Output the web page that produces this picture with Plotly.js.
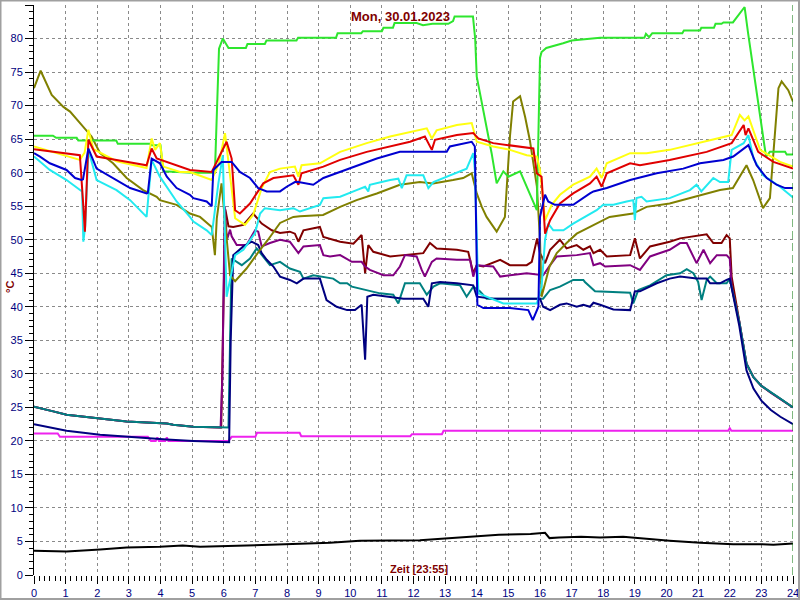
<!DOCTYPE html>
<html>
<head>
<meta charset="utf-8">
<script src="https://cdn.plot.ly/plotly-3.0.1.min.js"></script>
<style>html,body{margin:0;padding:0;background:#fff;}#chart{width:800px;height:600px;}</style>
</head>
<body>
<div id="chart"></div>
<script>
// ---- data (hours, °C) ----
const titleText = "Mon, 30.01.2023";
const xTitleText = "Zeit [23:55]";
const yTitleText = "°C";

const greenH = [0,0.6,0.7,1.35,1.4,2.6,2.65,3.67,3.72,4.0,4.09,5.0,5.72,5.78,5.85,5.97,6.15,6.7,6.75,7.3,7.35,8.3,8.35,9.55,9.6,10.35,10.4,11.0,11.05,11.35,11.4,12.1,12.3,12.6,13.1,13.25,13.3,13.88,13.95,14.0,14.16,14.47,14.63,14.84,15.0,15.37,15.9,16.0,16.05,16.2,16.73,17.0,17.9,19.3,19.35,19.45,19.55,20.5,20.55,21.06,21.1,21.5,21.55,21.74,21.8,22.1,22.47,22.58,23.1,23.15,23.27,23.75,23.8,24];
const greenV = [65.5,65.5,65.2,65.2,64.8,64.8,64.3,64.3,64.1,64.1,60.2,60.0,60.0,70,78.5,80.0,78.6,78.6,79.2,79.2,79.7,79.7,80.1,80.1,80.8,80.8,81.1,81.1,81.6,81.6,82.3,82.3,82.0,82.2,82.2,82.6,83.3,83.3,80,74.3,70.4,62.9,58.4,60.2,59.4,60.2,54.4,77.1,78.0,78.6,79.3,79.7,80.1,80.1,80.7,80.2,80.8,80.8,81.2,81.2,81.6,81.6,82.2,82.2,82.4,82.4,84.7,80.8,63.9,62.4,63.1,63.1,62.7,62.7];

const oliveH = [0,0.21,0.56,0.93,1.14,1.45,1.82,2.09,2.5,2.93,3.45,3.88,3.98,4.51,4.93,5.25,5.62,5.72,5.78,5.93,6.2,6.36,6.72,7.15,7.4,7.78,8.2,8.41,9.14,9.68,10.2,10.84,11.57,12.2,12.62,13.25,13.57,13.84,14.0,14.16,14.31,14.63,14.89,15.05,15.15,15.37,15.53,15.68,15.9,16.0,16.05,16.3,16.53,16.84,17.16,17.58,18.2,18.94,19.37,20.1,20.74,21.27,21.69,22.1,22.53,22.74,23.05,23.27,23.43,23.54,23.64,23.85,24];
const oliveV = [72.6,75.2,71.6,69.8,69.1,67.4,65.4,62.9,61.4,59.2,57.4,56.4,55.9,55.2,53.9,53.4,51.9,47.7,53.2,58.4,44.7,43.8,45.7,48.5,50.0,52.5,53.4,53.5,53.7,54.9,55.9,56.9,58.2,58.6,58.4,58.9,59.2,59.9,56.9,54.9,53.4,51.2,53.4,65.4,70.6,71.4,68.3,64.8,58,50,41.5,46,48,49.5,50.9,51.9,53.4,53.9,54.9,55.4,56.2,56.9,57.4,57.7,61.1,58.9,54.7,56.2,66.8,72.6,73.6,72.3,70.6];

const yellowH = [0,1.03,1.45,1.6,1.72,1.88,2.61,3.56,3.72,3.83,3.98,4.09,4.62,4.93,5.62,5.85,6.04,6.36,6.67,6.93,7.2,7.46,7.78,8.25,8.36,8.46,9.04,9.68,10.52,11.26,11.89,12.42,12.58,12.73,13.37,13.84,14.0,14.52,15.05,15.58,15.9,16.0,16.16,16.37,16.63,17.05,17.58,17.79,17.95,18.11,18.85,19.37,20.1,20.74,21.17,21.59,22.06,22.32,22.47,22.59,22.96,23.59,24];
const yellowV = [63.9,62.4,61.9,63,66.4,63.5,61.7,60.7,65.1,63.4,64.4,60.9,60.1,60.1,58.9,61.5,65.9,53.2,52.2,53.7,57.7,60.1,60.6,60.9,59.4,61.1,61.4,63.1,64.4,65.4,66.1,66.6,65.1,66.3,67.1,67.4,64.6,63.9,63.4,62.6,62.4,60.4,52.9,55.2,56.7,58.2,59.4,60.6,59.2,61.4,62.9,62.9,63.4,64.1,64.6,65.1,65.6,68.6,67.8,68.4,63.4,61.6,60.9];

const redH = [0,1.03,1.45,1.56,1.61,1.72,1.98,2.61,3.56,3.72,3.88,4.93,5.62,6.09,6.25,6.36,6.51,6.83,7.25,7.57,8.2,8.36,8.46,9.15,9.68,10.52,11.26,11.89,12.36,12.58,12.68,13.37,13.89,14.05,14.52,15.05,15.79,15.9,16.05,16.16,16.32,16.63,17.05,17.58,17.79,17.95,18.11,18.85,19.16,20.1,20.74,21.27,22.06,22.44,22.5,22.59,22.9,23.38,24];
const redV = [63.5,62.9,62.6,55,51.2,64.9,62.4,61.9,61.1,63.6,62.1,60.4,60.1,64.6,62.1,54.4,53.9,55.4,58.4,59.2,59.6,58.2,59.9,60.9,61.9,63.1,63.9,64.6,65.4,63.4,64.9,65.6,65.9,65.1,64.4,64.1,63.6,59.9,59.4,50.9,52.9,55.4,56.9,58.4,59.4,57.9,59.9,61.4,61.1,61.9,62.6,63.1,64.4,67.1,65.6,66.6,63.1,61.6,60.6];

const blueH = [0,0.19,0.5,1.03,1.3,1.5,1.55,1.72,1.98,2.61,3.04,3.56,3.6,3.72,3.98,4.2,4.51,4.93,5.04,5.46,5.62,5.67,5.93,6.25,6.51,6.83,7.09,7.36,7.78,7.99,8.25,8.36,8.83,9.15,9.68,10.2,10.84,11.57,12.31,13.05,13.15,13.84,13.94,14.02,14.21,15.05,15.63,15.77,15.95,16.0,16.16,16.26,16.47,17.05,17.58,17.69,18.11,18.85,19.69,20.53,21.06,21.8,22.11,22.59,22.85,23.17,23.48,23.75,24];
const blueV = [62.9,62.4,61.4,60.4,59.2,58.9,59,63.6,60.6,58.9,57.7,56.9,57,62.1,61.4,59.4,57.7,56.7,56.2,55.7,55.0,60.4,61.6,61.6,60.1,59.2,57.7,57.2,57.2,57.9,58.6,58.6,58.2,59.2,60.1,61.1,62.1,63.1,63.1,63.1,63.9,64.6,63.9,40.3,39.8,39.8,39.5,38.0,40.0,53.4,56.7,55.7,55.2,55.2,56.9,57.2,57.7,58.9,59.9,60.6,61.4,61.9,62.4,64.1,61.1,59.2,58.2,57.7,57.7];

const cyanH = [0,0.19,0.5,1.03,1.45,1.52,1.56,1.62,1.72,1.98,2.61,3.04,3.56,3.72,3.98,4.2,4.51,4.93,5.04,5.46,5.62,5.83,5.97,6.09,6.2,6.36,6.62,6.99,7.15,7.3,7.78,8.2,8.41,8.73,9.04,9.15,9.68,10.2,10.47,10.57,10.62,11.26,11.52,11.63,11.78,12.31,12.47,12.63,13.05,13.68,13.89,13.94,14.05,14.31,14.84,15.9,16.05,16.16,16.26,16.42,16.74,17.05,17.58,17.79,18.0,18.32,18.74,18.95,19.0,19.05,19.21,19.37,20.1,20.74,20.95,21.1,21.48,21.69,21.95,22.06,22.44,22.59,22.75,23.06,23.59,24];
const cyanV = [62.4,61.6,60.4,58.9,57.4,57.2,49.7,52,63.4,58.9,57.4,55.9,53.4,61.9,59.4,57.9,55.7,53.4,52.7,51.4,50.7,58.4,62.6,41.5,44,47.7,48.5,51,53.9,54.7,54.4,54.7,54.2,54.7,55.2,56.2,56.4,57.4,57.9,57.2,58.2,58.9,59.1,57.7,59.6,59.6,57.7,58.6,59.4,60.6,62.9,60.4,42,41.5,40.5,40.5,43,50,52.4,51.4,51.4,52.4,53.9,54.4,55.2,55.2,55.7,55.9,52.9,56.2,56.4,55.7,56.2,57.4,58.2,57.2,59.2,58.6,58.6,63.4,64.4,65.6,62.1,59.6,57.9,56.3];

const maroonH = [0,0.19,0.61,1.03,2.09,2.93,4.2,4.4,5.04,5.92,5.97,6.05,6.15,6.3,6.62,6.93,7.2,7.52,7.78,8.09,8.25,8.36,8.52,8.83,9.04,9.15,9.68,10.1,10.36,10.47,10.57,10.73,11.26,11.68,12.31,12.52,12.73,13.37,13.73,13.89,14.0,14.21,14.74,15.05,15.58,15.74,15.91,16.0,16.16,16.32,16.63,16.84,17.16,17.37,17.58,17.69,17.9,18.11,18.85,19.0,19.16,19.48,20.1,20.43,21.27,21.48,21.74,21.9,22.0,22.06,22.3,22.53,22.75,23.0,23.3,23.6,24];
const maroonV = [25.1,24.9,24.4,23.9,23.4,22.9,22.6,22.4,22.1,22.0,35,54.5,52,51.9,52.2,53.9,52.4,51.4,51.0,51.2,50.9,49.7,51.4,51.7,51.9,50.4,49.7,49.4,50.7,45,49.2,48.2,47.5,47.7,48,49.5,48.7,48.5,48.2,45,46.2,46,47,46.2,46.2,46.7,50.2,48,46.5,48.5,50,48.7,49.2,48.5,49,48,48.5,47.5,47.7,50.2,47.2,49,49.7,50.2,50.8,49.5,49.5,50.7,50.2,44.5,37.8,31.5,29.5,28.2,27.2,26.3,25.0];

const purpleH = [0,0.19,0.61,1.03,2.09,2.93,4.2,4.4,5.04,5.9,5.96,6.03,6.1,6.2,6.25,6.41,6.72,6.99,7.09,7.2,7.46,7.78,8.09,8.36,8.52,9.04,9.15,9.36,9.68,10.05,10.36,10.47,10.62,11.05,11.36,11.57,11.73,12.1,12.26,12.36,12.58,12.73,13.37,13.79,13.89,14.0,14.52,14.74,15.58,16.1,16.32,16.53,17.16,17.58,17.69,17.9,18.06,18.85,19.16,19.48,20.1,20.43,20.64,20.95,21.17,21.38,21.59,21.9,22.0,22.06,22.3,22.53,22.75,23.0,23.3,23.6,24];
const purpleV = [25.1,24.9,24.4,23.9,23.4,22.9,22.6,22.4,22.1,22.0,30,55,50,51.5,50.5,49.2,49.2,51.4,51.2,49,49.5,50,49.7,48,49,49.2,47.7,47.5,47.7,46.7,46.7,46,45.5,44.7,44.7,46,47.7,47.5,45.5,44.5,46.7,47.2,47,47,44.5,46.2,46,44.5,45,44.7,46.2,47.5,47.7,48,46.2,46.5,46,46.2,45.5,47.5,48.5,49.5,49.5,46.5,48.5,46.5,47.7,47.7,47.2,43,37.8,31.5,29.5,28.2,27.2,26.3,25.0];

const tealH = [0,0.19,0.61,1.03,2.09,2.93,4.2,4.4,5.04,6.15,6.2,6.25,6.57,6.83,7.04,7.25,7.46,7.78,8.09,8.41,8.52,8.83,9.15,9.46,9.68,9.9,10.05,10.52,10.94,11.36,11.52,11.73,12.2,12.42,12.63,12.84,13.47,13.68,13.89,14.1,14.31,14.74,15.58,16.1,16.32,16.63,17.05,17.37,17.42,17.74,18.85,18.95,19.11,19.48,20.0,20.43,20.64,20.85,21.0,21.11,21.27,21.38,21.59,21.9,22.0,22.3,22.53,22.75,23.0,23.3,23.6,24];
const tealV = [25.1,24.9,24.4,23.9,23.4,22.9,22.6,22.4,22.1,22.0,35,47.2,46.2,47.2,48.7,47.5,46.2,46.7,45.7,45.2,44.2,44.7,44.5,44.2,43.5,43.5,43,42.5,42,41.8,40.5,43.5,43.5,41.8,43,43.5,43.2,41.5,43,42.3,41.2,41.2,41.2,41.2,42.5,43,44,44,43.7,42.3,42.1,40.5,42.5,43.2,44.7,45,45.6,45,43.7,41,44,44.5,43.5,43.5,44.2,37.8,31.5,29.5,28.2,27.2,26.3,25.0];

const navyH = [0,0.61,1.03,2.09,3.14,4.2,5.04,6.17,6.22,6.3,6.62,6.88,7.09,7.2,7.36,7.57,7.78,8.09,8.31,8.52,9.04,9.15,9.25,9.57,9.9,10.15,10.36,10.47,10.54,10.73,11.26,11.68,12.31,12.47,12.58,12.84,13.37,13.79,13.89,14.0,14.52,15.58,15.9,16.0,16.1,16.32,16.63,16.84,17.16,17.37,17.58,17.69,17.9,18.32,18.85,19.0,19.16,19.37,19.69,20.1,20.43,20.95,21.27,21.38,21.69,21.9,22.0,22.3,22.53,22.75,23.0,23.3,23.6,24];
const navyV = [22.5,21.9,21.5,20.9,20.5,20.2,20.0,19.8,35,47.7,49,49.7,49.2,48,47,46,44.5,44,43.5,44.2,44.2,42.5,41,40,39.5,39.5,40.3,32.1,41.5,41.8,41.5,41.2,41.2,40,43.5,43.7,43.5,43.2,43.2,41.5,41.2,41.2,41.2,41.2,40,39.5,40.3,40.5,40,40.3,40,40.6,40.3,39.6,39.5,42.3,42.3,42.8,43.5,44.2,44.5,44.2,44.2,43.5,43.5,44,44.2,37.2,30.5,27.8,26,24.6,23.6,22.5];

const magentaH = [0,0.75,0.82,3.6,3.7,3.85,3.9,3.95,4.15,4.2,4.25,6.15,6.25,7.0,7.05,8.4,8.45,11.9,11.95,12.9,12.95,21.95,22.0,22.05,24];
const magentaV = [21.1,21.1,20.6,20.6,20.0,20.0,20.5,20.0,20.0,20.5,20.0,20.0,20.6,20.6,21.2,21.2,20.7,20.7,21.0,21.0,21.5,21.5,21.9,21.5,21.5];

const blackH = [0,1.03,2.09,2.93,3.98,4.7,5.25,6.2,7.46,9.36,10.3,12.2,13.15,13.8,14.7,15.7,16.1,16.16,16.3,16.6,17.3,17.9,18.63,19.06,20.1,21.06,22.11,22.96,23.38,24];
const blackV = [3.6,3.5,3.8,4.1,4.2,4.4,4.2,4.3,4.5,4.8,5.1,5.2,5.5,5.8,6.0,6.1,6.2,6.3,5.5,5.6,5.7,5.6,5.7,5.5,5.1,4.8,4.6,4.6,4.5,4.7];

const xTicks = [0,1,2,3,4,5,6,7,8,9,10,11,12,13,14,15,16,17,18,19,20,21,22,23,24];
const yTicks = [0,5,10,15,20,25,30,35,40,45,50,55,60,65,70,75,80,85];

// ---- traces ----
const series = [
  [magentaH, magentaV, '#ee22ee'],
  [blackH, blackV, '#000000'],
  [maroonH, maroonV, '#800000'],
  [purpleH, purpleV, '#800080'],
  [tealH, tealV, '#008080'],
  [navyH, navyV, '#000080'],
  [oliveH, oliveV, '#808000'],
  [greenH, greenV, '#2ee62e'],
  [cyanH, cyanV, '#22eaf0'],
  [yellowH, yellowV, '#ffff10'],
  [redH, redV, '#e00000'],
  [blueH, blueV, '#0000d0']
];
const traces = series.map(s => ({
  type: 'scatter', mode: 'lines', x: s[0], y: s[1],
  line: {color: s[2], width: 2}, hoverinfo: 'skip', showlegend: false
}));

const tickFont = {family: 'Liberation Sans, Arial, sans-serif', size: 11, color: '#000080'};
const L = 34, R = 793, T = 5, B = 575;
const px = x => (x - L) / (R - L);
const py = y => (B - y) / (B - T);

const layout = {
  width: 800, height: 600,
  margin: {l: L, r: 800 - R, t: T, b: 600 - B, pad: 0},
  paper_bgcolor: '#ffffff', plot_bgcolor: '#ffffff',
  showlegend: false,
  xaxis: {
    range: [0, 24], tickvals: xTicks, ticktext: xTicks.map(String),
    ticks: 'outside', ticklen: 8, tickwidth: 1, tickcolor: '#000000',
    showline: false, zeroline: false,
    showgrid: true, gridcolor: '#8a8a8a', gridwidth: 1, griddash: 'dot',
    tickfont: tickFont, fixedrange: true,
    minor: {dtick: 1/6, tick0: 0, ticks: 'outside', ticklen: 5, tickcolor: '#000000', showgrid: false}
  },
  yaxis: {
    range: [0, 85], tickvals: yTicks, ticktext: yTicks.map(String),
    ticks: 'outside', ticklen: 8, tickwidth: 1, tickcolor: '#000000',
    showline: true, linecolor: '#000000', linewidth: 1, zeroline: false,
    showgrid: true, gridcolor: '#8a8a8a', gridwidth: 1, griddash: 'dot',
    tickfont: tickFont, fixedrange: true,
    minor: {dtick: 1, tick0: 0, ticks: 'outside', ticklen: 4, tickcolor: '#000000', showgrid: false}
  },
  shapes: [
    {type: 'line', xref: 'x', yref: 'y', x0: 24, x1: 24, y0: 0, y1: 85,
     line: {color: '#007000', width: 1, dash: '8px,4px'}},
    {type: 'rect', xref: 'paper', yref: 'paper', x0: px(0.5), x1: px(799), y0: py(599), y1: py(0.5),
     line: {color: '#a0a0a0', width: 2}, fillcolor: 'rgba(0,0,0,0)'}
  ],
  annotations: [
    {text: '<b>' + titleText + '</b>', xref: 'paper', yref: 'paper', x: px(400), y: py(17),
     xanchor: 'center', yanchor: 'middle', showarrow: false,
     font: {family: 'Liberation Sans, Arial, sans-serif', size: 13, color: '#800000'}},
    {text: '<b>' + xTitleText + '</b>', xref: 'paper', yref: 'paper', x: px(419), y: py(569),
     xanchor: 'center', yanchor: 'middle', showarrow: false,
     font: {family: 'Liberation Sans, Arial, sans-serif', size: 11, color: '#800000'}},
    {text: '<b>' + yTitleText + '</b>', xref: 'paper', yref: 'paper', x: px(10), y: py(287),
     xanchor: 'center', yanchor: 'middle', showarrow: false, textangle: -90,
     font: {family: 'Liberation Sans, Arial, sans-serif', size: 11, color: '#800000'}}
  ]
};

Plotly.newPlot('chart', traces, layout, {displayModeBar: false, staticPlot: true});
</script>
</body>
</html>
